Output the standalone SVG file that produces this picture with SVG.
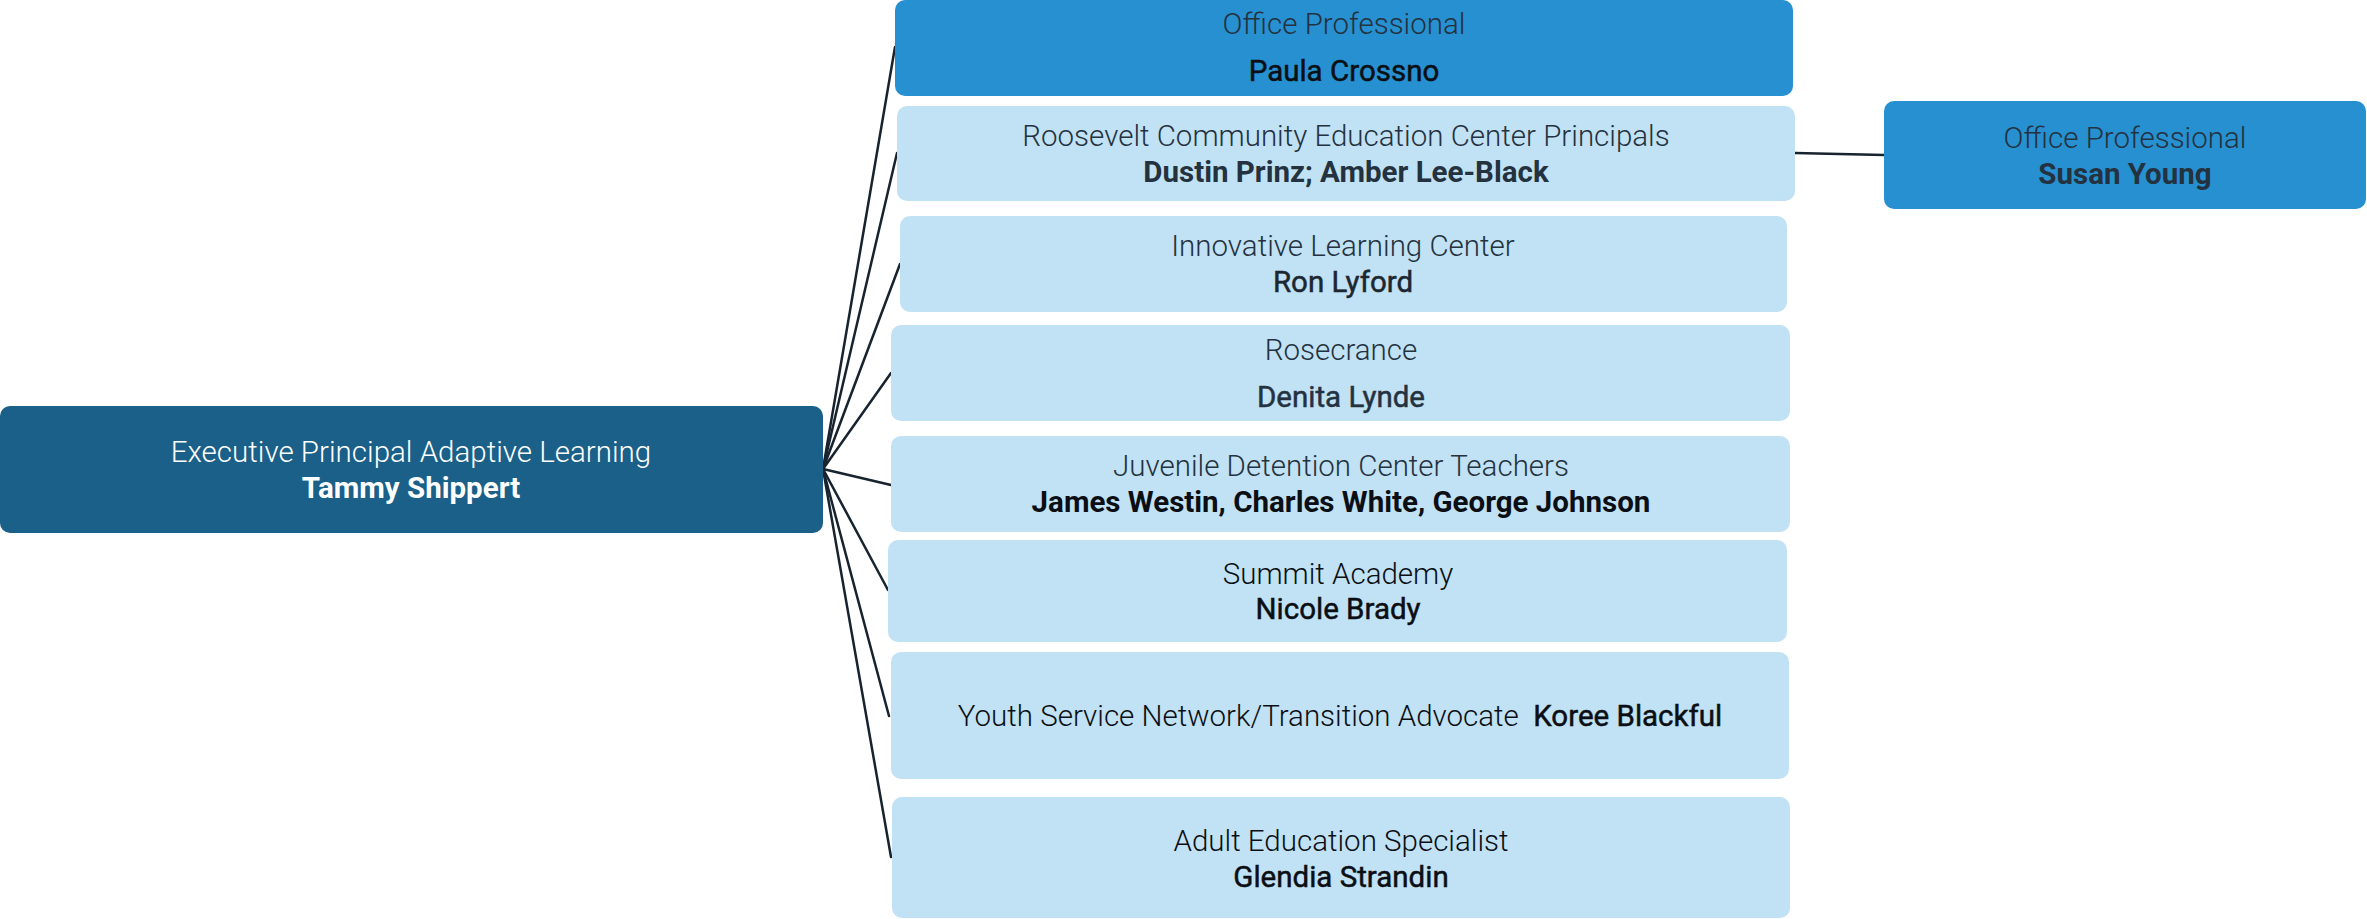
<svg xmlns="http://www.w3.org/2000/svg" width="2367" height="919" viewBox="0 0 2367 919">
<style>
.exec{fill:#1a6089}
.op{fill:#2690d0}
.lt{fill:#c1e1f4}
text{font-family:Roboto,"Liberation Sans",sans-serif;font-size:29.5px;text-anchor:middle}
.t{font-weight:300;fill:#24323f}
.n{font-weight:400;fill:#0b0f14;stroke:#0b0f14;stroke-width:0.5}
.b{font-weight:700;fill:#24323f}
.w{fill:#ffffff}
.c{stroke:#17232e;stroke-width:2.5;fill:none;stroke-linecap:round}
</style>
<g id="connectors">
<line class="c" x1="823" y1="469" x2="895" y2="47"/>
<line class="c" x1="823" y1="469" x2="897" y2="153"/>
<line class="c" x1="823" y1="469" x2="900" y2="264"/>
<line class="c" x1="823" y1="469" x2="891" y2="373"/>
<line class="c" x1="823" y1="469" x2="891" y2="485"/>
<line class="c" x1="823" y1="469" x2="888" y2="590"/>
<line class="c" x1="823" y1="469" x2="889" y2="716"/>
<line class="c" x1="823" y1="469" x2="891" y2="857"/>
<line class="c" x1="1795" y1="153" x2="1884" y2="155"/>
</g>
<g id="exec">
<rect class="exec" x="0" y="406" width="823" height="127" rx="10"/>
<text class="t w" x="411" y="462">Executive Principal Adaptive Learning</text>
<text class="b w" x="411" y="498">Tammy Shippert</text>
</g>
<g id="office-paula">
<rect class="op" x="895" y="0" width="898" height="96" rx="10"/>
<text class="t" x="1344" y="34">Office Professional</text>
<text class="n" x="1344" y="81">Paula Crossno</text>
</g>
<g id="roosevelt">
<rect class="lt" x="897" y="106" width="898" height="95" rx="10"/>
<text class="t" x="1346" y="146">Roosevelt Community Education Center Principals</text>
<text class="b" x="1346" y="182">Dustin Prinz; Amber Lee-Black</text>
</g>
<g id="office-susan">
<rect class="op" x="1884" y="101" width="482" height="108" rx="10"/>
<text class="t" x="2125" y="148">Office Professional</text>
<text class="b" x="2125" y="184">Susan Young</text>
</g>
<g id="innovative">
<rect class="lt" x="900" y="216" width="887" height="96" rx="10"/>
<text class="t" x="1343" y="256">Innovative Learning Center</text>
<text class="n" x="1343" y="292" style="fill:#1c2731;stroke:#1c2731">Ron Lyford</text>
</g>
<g id="rosecrance">
<rect class="lt" x="891" y="325" width="899" height="96" rx="10"/>
<text class="t" x="1341" y="360">Rosecrance</text>
<text class="n" x="1341" y="407" style="fill:#24323f;stroke:#24323f">Denita Lynde</text>
</g>
<g id="juvenile">
<rect class="lt" x="891" y="436" width="899" height="96" rx="10"/>
<text class="t" x="1341" y="476">Juvenile Detention Center Teachers</text>
<text class="b" x="1341" y="512" style="fill:#0b0f14">James Westin, Charles White, George Johnson</text>
</g>
<g id="summit">
<rect class="lt" x="888" y="540" width="899" height="102" rx="10"/>
<text class="t" x="1338" y="584" style="fill:#0b0f14">Summit Academy</text>
<text class="n" x="1338" y="619">Nicole Brady</text>
</g>
<g id="youth">
<rect class="lt" x="891" y="652" width="898" height="127" rx="10"/>
<text x="1340" y="726" xml:space="preserve"><tspan class="t" style="fill:#0b0f14">Youth Service Network/Transition Advocate  </tspan><tspan class="n">Koree Blackful</tspan></text>
</g>
<g id="adult">
<rect class="lt" x="892" y="797" width="898" height="121" rx="10"/>
<text class="t" x="1341" y="851" style="fill:#0b0f14">Adult Education Specialist</text>
<text class="n" x="1341" y="887">Glendia Strandin</text>
</g>
</svg>
